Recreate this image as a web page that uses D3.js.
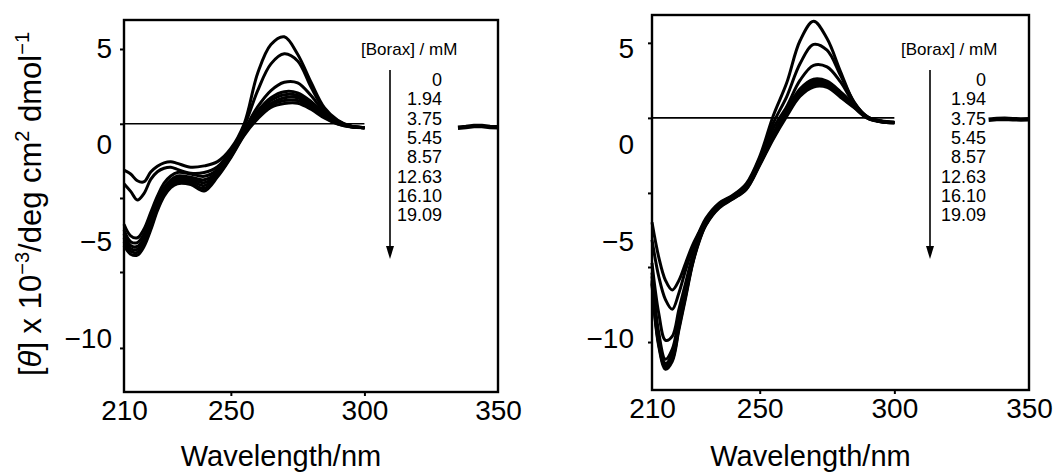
<!DOCTYPE html>
<html>
<head>
<meta charset="utf-8">
<script src="https://cdn.jsdelivr.net/npm/d3@7"></script>
<style>
  html, body { margin: 0; padding: 0; background: #fff; }
  svg { display: block; }
  text { font-family: "Liberation Sans", Arial, Helvetica, sans-serif; fill: #000; }
</style>
</head>
<body>
<svg id="chart" width="1064" height="476"></svg>
<script>
// ---------------- DATA ----------------
const wavelengths = [210, 212.5, 215, 217.5, 220, 222.5, 225, 227.5, 230, 235, 240, 245, 250, 255, 260, 265, 270, 275, 280, 285, 290, 295, 300];
const concentrations = ["0", "1.94", "3.75", "5.45", "8.57", "12.63", "16.10", "19.09"];

// Left panel: [θ] x 10^-3 for each borax concentration
const leftSeries = [
  [-1.3, -1.5, -1.85, -1.9, -1.4, -1.1, -0.92, -0.86, -0.95, -1.15, -1.08, -0.86, -0.18, 1.1, 3.7, 5.2, 5.6, 4.7, 3.25, 1.93, 1.28, 0.97, 0.9],
  [-2.0, -2.4, -2.85, -2.5, -1.78, -1.38, -1.2, -1.15, -1.26, -1.46, -1.42, -1.12, -0.3, 0.97, 2.8, 4.2, 4.72, 4.35, 3.0, 1.83, 1.25, 0.97, 0.9],
  [-4.1, -4.7, -4.8, -4.35, -3.5, -2.65, -1.97, -1.6, -1.42, -1.5, -1.62, -1.28, -0.4, 0.77, 1.97, 2.82, 3.25, 3.22, 2.56, 1.71, 1.2, 0.97, 0.9],
  [-4.4, -5.0, -5.05, -4.6, -3.75, -2.9, -2.2, -1.8, -1.6, -1.66, -1.8, -1.4, -0.45, 0.7, 1.75, 2.45, 2.76, 2.7, 2.25, 1.6, 1.18, 0.97, 0.9],
  [-4.6, -5.2, -5.25, -4.8, -3.95, -3.05, -2.35, -1.9, -1.7, -1.76, -1.95, -1.5, -0.5, 0.65, 1.64, 2.3, 2.6, 2.56, 2.15, 1.55, 1.15, 0.96, 0.9],
  [-4.8, -5.35, -5.4, -4.95, -4.1, -3.2, -2.45, -2.0, -1.82, -1.85, -2.1, -1.55, -0.55, 0.6, 1.55, 2.15, 2.45, 2.45, 2.05, 1.5, 1.13, 0.95, 0.9],
  [-5.0, -5.5, -5.55, -5.1, -4.25, -3.3, -2.55, -2.1, -1.9, -1.96, -2.25, -1.6, -0.6, 0.55, 1.45, 2.05, 2.3, 2.3, 1.95, 1.45, 1.1, 0.94, 0.9],
  [-5.2, -5.65, -5.7, -5.25, -4.4, -3.4, -2.65, -2.2, -2.0, -2.05, -2.38, -1.65, -0.65, 0.5, 1.35, 1.95, 2.15, 2.16, 1.85, 1.4, 1.08, 0.93, 0.9]
];

// Right panel
const rightSeries = [
  [-4.0, -5.8, -7.0, -7.5, -7.0, -6.1, -5.2, -4.5, -3.8, -3.0, -2.6, -2.0, -0.6, 1.5, 3.2, 5.4, 6.4, 5.5, 3.8, 2.2, 1.4, 1.2, 1.15],
  [-4.9, -6.8, -8.0, -8.5, -7.65, -6.45, -5.4, -4.55, -3.87, -3.04, -2.63, -2.06, -0.69, 1.12, 2.49, 4.21, 5.2, 4.9, 3.6, 2.23, 1.43, 1.2, 1.15],
  [-6.1, -8.7, -10.1, -9.9, -8.5, -7.13, -5.76, -4.72, -3.95, -3.09, -2.66, -2.11, -0.77, 0.86, 1.98, 3.35, 4.12, 4.04, 3.26, 2.15, 1.46, 1.2, 1.15],
  [-6.6, -9.7, -11.08, -10.57, -9.0, -7.47, -5.93, -4.81, -4.0, -3.14, -2.7, -2.15, -0.86, 0.6, 1.8, 2.9, 3.4, 3.3, 2.75, 2.11, 1.46, 1.25, 1.17],
  [-6.8, -10.0, -11.3, -10.8, -9.2, -7.6, -6.0, -4.85, -4.05, -3.17, -2.73, -2.2, -0.9, 0.5, 1.7, 2.78, 3.3, 3.2, 2.65, 2.05, 1.44, 1.24, 1.17],
  [-7.0, -10.2, -11.4, -11.0, -9.35, -7.7, -6.1, -4.9, -4.1, -3.2, -2.75, -2.25, -0.95, 0.42, 1.62, 2.68, 3.2, 3.12, 2.58, 2.0, 1.42, 1.23, 1.16],
  [-7.1, -10.3, -11.5, -11.1, -9.45, -7.8, -6.15, -4.95, -4.12, -3.22, -2.78, -2.28, -1.0, 0.36, 1.55, 2.6, 3.1, 3.05, 2.52, 1.96, 1.4, 1.22, 1.16],
  [-7.2, -10.4, -11.6, -11.2, -9.55, -7.9, -6.2, -5.0, -4.15, -3.25, -2.8, -2.3, -1.05, 0.3, 1.48, 2.52, 3.0, 2.98, 2.47, 1.93, 1.38, 1.21, 1.15]
];

// Short visible tail at the far right of each panel (335-350 nm)
const tailWavelengths = [335, 338, 341, 344, 347, 350];
const leftTail = [0.9, 0.93, 0.98, 0.98, 0.93, 0.92];
const rightTail = [1.3, 1.34, 1.36, 1.33, 1.32, 1.33];

// Horizontal reference line level in each panel
const leftBaseline = 1.1;
const rightBaseline = 1.4;

// Axis tick labels and tick mark positions
const xTickLabels = [210, 250, 300, 350];
const xTickMarks = [250, 300];
const yTickLabels = [5, 0, -5, -10];
const leftYTickMarks = [4.97, 1.1, -2.74, -6.57, -10.5];
const rightYTickMarks = [5.28, 1.4, -2.48, -6.31, -10.19];

const legendTitle = "[Borax] / mM";
const xTitle = "Wavelength/nm";

// ---------------- LAYOUT ----------------
const panels = [
  { series: leftSeries, tail: leftTail, baseline: leftBaseline, yMarks: leftYTickMarks,
    x0: 124, x1: 498, y0: 20, y1: 392, yDomain: [-12.78, 6.47],
    legTitleX: 361, arrowX: 390, numRight: 442, showYTitle: true },
  { series: rightSeries, tail: rightTail, baseline: rightBaseline, yMarks: rightYTickMarks,
    x0: 652, x1: 1029, y0: 15, y1: 390, yDomain: [-12.67, 6.72],
    legTitleX: 901, arrowX: 930, numRight: 986, showYTitle: false }
];

const svg = d3.select("#chart");
const tickFont = 28;

panels.forEach(p => {
  const x = d3.scaleLinear().domain([210, 350]).range([p.x0, p.x1]);
  const y = d3.scaleLinear().domain(p.yDomain).range([p.y1, p.y0]);
  const g = svg.append("g");

  // baseline
  g.append("line")
    .attr("x1", x(210)).attr("x2", x(300))
    .attr("y1", y(p.baseline)).attr("y2", y(p.baseline))
    .attr("stroke", "#000").attr("stroke-width", 1.6);

  const line = d3.line()
    .x((d, i) => x(wavelengths[i]))
    .y(d => y(d))
    .curve(d3.curveCatmullRom.alpha(0.5));

  g.selectAll("path.series").data(p.series).enter().append("path")
    .attr("class", "series")
    .attr("d", d => line(d))
    .attr("fill", "none").attr("stroke", "#000")
    .attr("stroke-width", 3).attr("stroke-linejoin", "round");

  const tailLine = d3.line().x((d, i) => x(tailWavelengths[i])).y(d => y(d));
  g.append("path").attr("d", tailLine(p.tail))
    .attr("fill", "none").attr("stroke", "#000").attr("stroke-width", 4.5);

  // frame
  g.append("rect")
    .attr("x", p.x0).attr("y", p.y0)
    .attr("width", p.x1 - p.x0).attr("height", p.y1 - p.y0)
    .attr("fill", "none").attr("stroke", "#000").attr("stroke-width", 2.4);

  // x axis: tick marks
  g.append("g").attr("transform", `translate(0,${p.y1})`)
    .call(d3.axisBottom(x).tickValues(xTickMarks).tickSize(4).tickFormat(""))
    .call(a => a.select(".domain").remove())
    .call(a => a.selectAll("line").attr("stroke-width", 2));
  // x axis labels
  g.append("g").attr("transform", `translate(0,${p.y1})`)
    .call(d3.axisBottom(x).tickValues(xTickLabels).tickSize(0).tickPadding(8).tickFormat(d3.format("d")))
    .call(a => a.select(".domain").remove())
    .call(a => a.selectAll("text").attr("font-size", tickFont).attr("font-family", "Liberation Sans, Arial, sans-serif").attr("fill", "#000"));

  // y axis tick marks
  g.append("g").attr("transform", `translate(${p.x0},0)`)
    .call(d3.axisLeft(y).tickValues(p.yMarks).tickSize(4).tickFormat(""))
    .call(a => a.select(".domain").remove())
    .call(a => a.selectAll("line").attr("stroke-width", 2));
  // y axis labels
  g.append("g").attr("transform", `translate(${p.x0},0)`)
    .call(d3.axisLeft(y).tickValues(yTickLabels).tickSize(0)
      .tickPadding(p.showYTitle ? 12 : 18)
      .tickFormat(d => d < 0 ? "\u2212" + Math.abs(d) : String(d)))
    .call(a => a.select(".domain").remove())
    .call(a => a.selectAll("text").attr("font-size", tickFont).attr("font-family", "Liberation Sans, Arial, sans-serif").attr("fill", "#000"));

  // x title
  g.append("text")
    .attr("x", (p.x0 + p.x1) / 2 - 30).attr("y", 466)
    .attr("text-anchor", "middle").attr("font-size", 29)
    .text(xTitle);

  // legend
  g.append("text").attr("x", p.legTitleX).attr("y", 55)
    .attr("font-size", 17).text(legendTitle);
  g.append("line")
    .attr("x1", p.arrowX).attr("x2", p.arrowX).attr("y1", 70).attr("y2", 248)
    .attr("stroke", "#000").attr("stroke-width", 1.6);
  g.append("path")
    .attr("d", `M${p.arrowX - 4},246 L${p.arrowX + 4},246 L${p.arrowX},259 Z`)
    .attr("fill", "#000");
  g.selectAll("text.conc").data(concentrations).enter().append("text")
    .attr("class", "conc")
    .attr("x", p.numRight).attr("y", (d, i) => 86 + i * 19.3)
    .attr("text-anchor", "end").attr("font-size", 18)
    .text(d => d);

  if (p.showYTitle) {
    const t = g.append("text")
      .attr("transform", "translate(41,204) rotate(-90)")
      .attr("text-anchor", "middle").attr("font-size", 31);
    t.append("tspan").text("[");
    t.append("tspan").attr("font-style", "italic").text("\u03B8");
    t.append("tspan").text("] x 10");
    t.append("tspan").attr("font-size", 20).attr("dy", -12).text("\u22123");
    t.append("tspan").attr("dy", 12).text("/deg cm");
    t.append("tspan").attr("font-size", 20).attr("dy", -12).text("2");
    t.append("tspan").attr("dy", 12).text(" dmol");
    t.append("tspan").attr("font-size", 20).attr("dy", -12).text("\u22121");
  }
});
</script>
</body>
</html>
